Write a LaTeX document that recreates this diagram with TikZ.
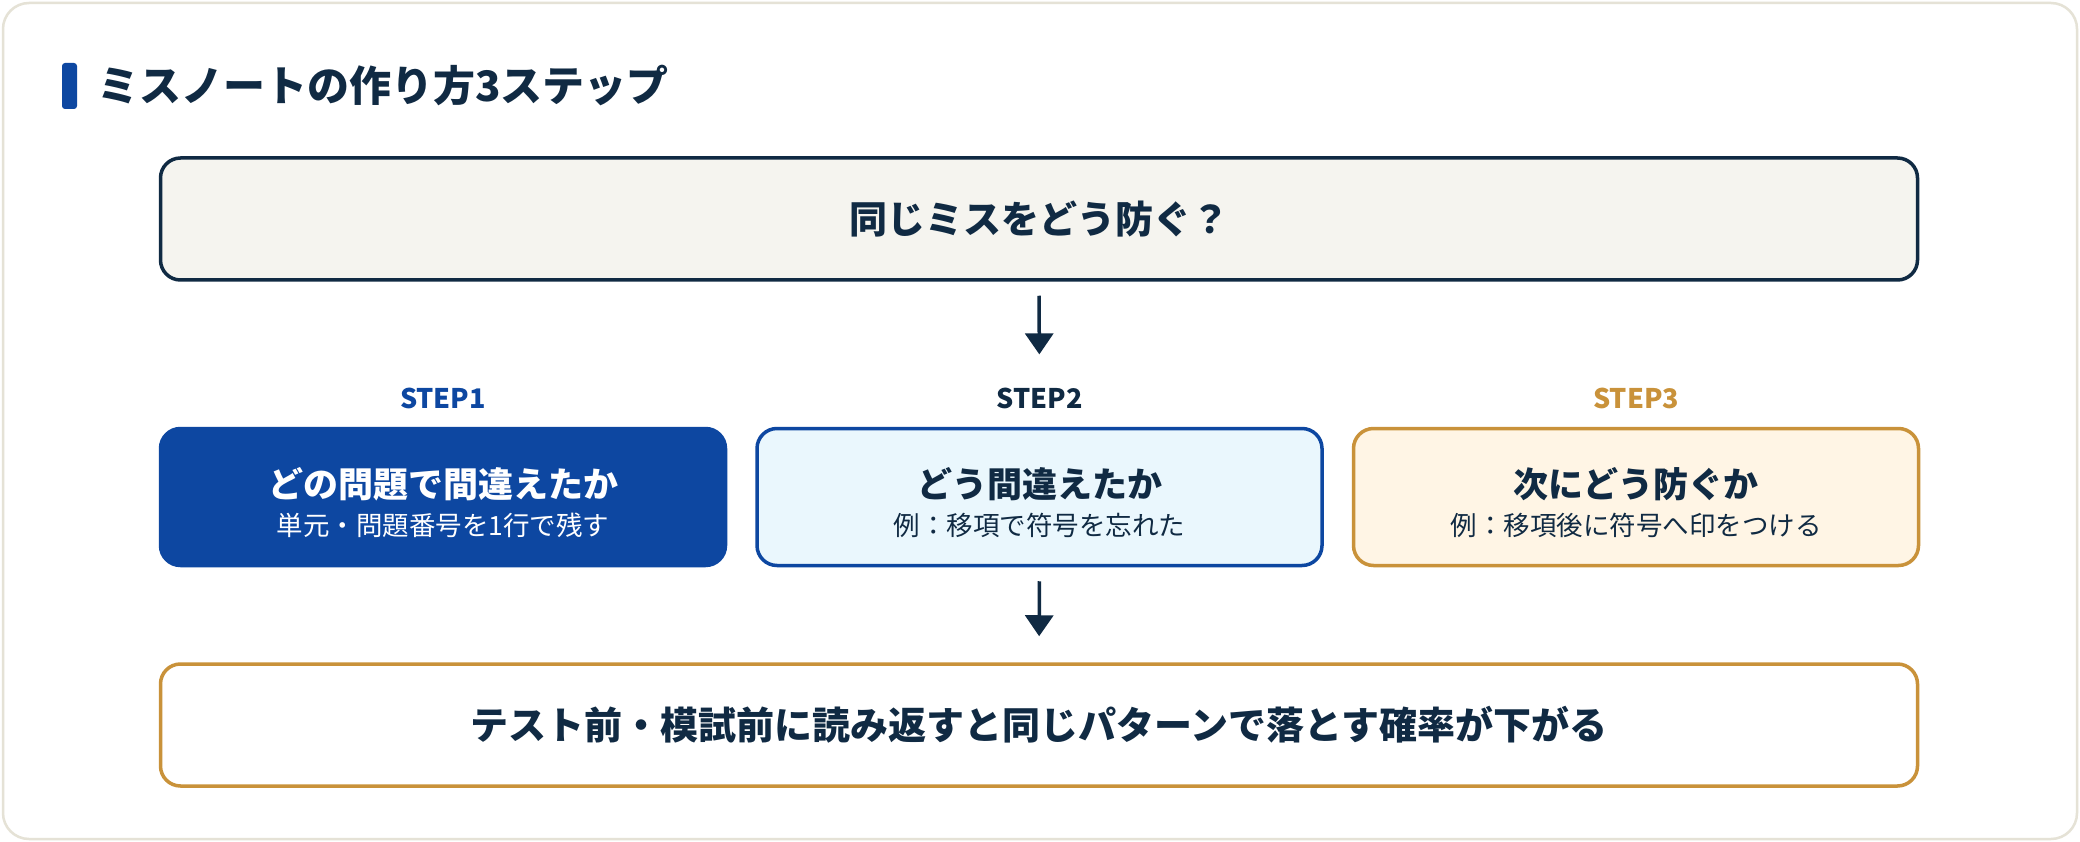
\documentclass[tikz,border=0pt]{standalone}
\usepackage{fontspec}
\setmainfont{Noto Sans CJK JP}
\usetikzlibrary{arrows.meta}
\definecolor{navy}{HTML}{102A43}
\definecolor{blue}{HTML}{0D47A1}
\definecolor{gold}{HTML}{C9923A}
\definecolor{topfill}{HTML}{F5F4EF}
\definecolor{fillb}{HTML}{EAF7FD}
\definecolor{fillg}{HTML}{FFF5E5}
\definecolor{cardline}{HTML}{E5E2D6}
\tikzset{
  bigbox/.style={draw, rounded corners=20pt, line width=3.5pt, minimum width=1757pt, minimum height=122pt, inner sep=0pt, align=center, text=navy, font=\fontsize{38}{42}\selectfont\bfseries},
  stepbox/.style={draw, rounded corners=20pt, line width=3.5pt, minimum width=565pt, minimum height=137pt, inner sep=0pt},
  steplabel/.style={font=\fontsize{27}{30}\selectfont\bfseries, inner sep=0pt},
  sttitle/.style={font=\fontsize{35}{39}\selectfont\bfseries, inner sep=0pt},
  stsub/.style={font=\fontsize{26.5}{30}\selectfont, inner sep=0pt},
  arr/.style={draw=navy, line width=3.5pt, -{Triangle[width=28pt,length=21pt]}},
}
\begin{document}
\begin{tikzpicture}[x=1pt,y=-1pt]
\useasboundingbox (0,0) rectangle (2080,842);
\fill[white] (0,0) rectangle (2080,842);
\draw[cardline, line width=2.5pt, fill=white, rounded corners=26pt] (3,3) rectangle (2077,839);
% title
\fill[blue, rounded corners=3pt] (62,63) rectangle (77,109);
\node[anchor=west, inner sep=0pt, text=navy, font=\fontsize{42}{46}\selectfont\bfseries] (title) at (97,86) {ミスノートの作り方3ステップ};
% top box
\node[bigbox, fill=topfill, draw=navy] (top) at (1039,219) {同じミスをどう防ぐ？};
% step labels
\node[steplabel, text=blue] (lab1) at (443,398) {STEP1};
\node[steplabel, text=navy] (lab2) at (1039.5,398) {STEP2};
\node[steplabel, text=gold] (lab3) at (1636,398) {STEP3};
% step boxes
\node[stepbox, fill=blue, draw=blue] (s1) at (443,497) {};
\node[stepbox, fill=fillb, draw=blue] (s2) at (1039.5,497) {};
\node[stepbox, fill=fillg, draw=gold] (s3) at (1636,497) {};
\node[sttitle, text=white] (t1) at (443,484) {どの問題で間違えたか};
\node[stsub, text=white] (u1) at (443,525) {単元・問題番号を1行で残す};
\node[sttitle, text=navy] (t2) at (1039.5,484) {どう間違えたか};
\node[stsub, text=navy] (u2) at (1039.5,525) {例：移項で符号を忘れた};
\node[sttitle, text=navy] (t3) at (1636,484) {次にどう防ぐか};
\node[stsub, text=navy] (u3) at (1636,525) {例：移項後に符号へ印をつける};
% bottom box
\node[bigbox, fill=white, draw=gold] (bot) at (1039,725) {テスト前・模試前に読み返すと同じパターンで落とす確率が下がる};
% arrows
\draw[arr, shorten <=14pt, shorten >=33pt] (top.south) -- (lab2.north);
\draw[arr, shorten <=14pt, shorten >=26pt] (s2.south) -- (bot.north);
\end{tikzpicture}
\end{document}
